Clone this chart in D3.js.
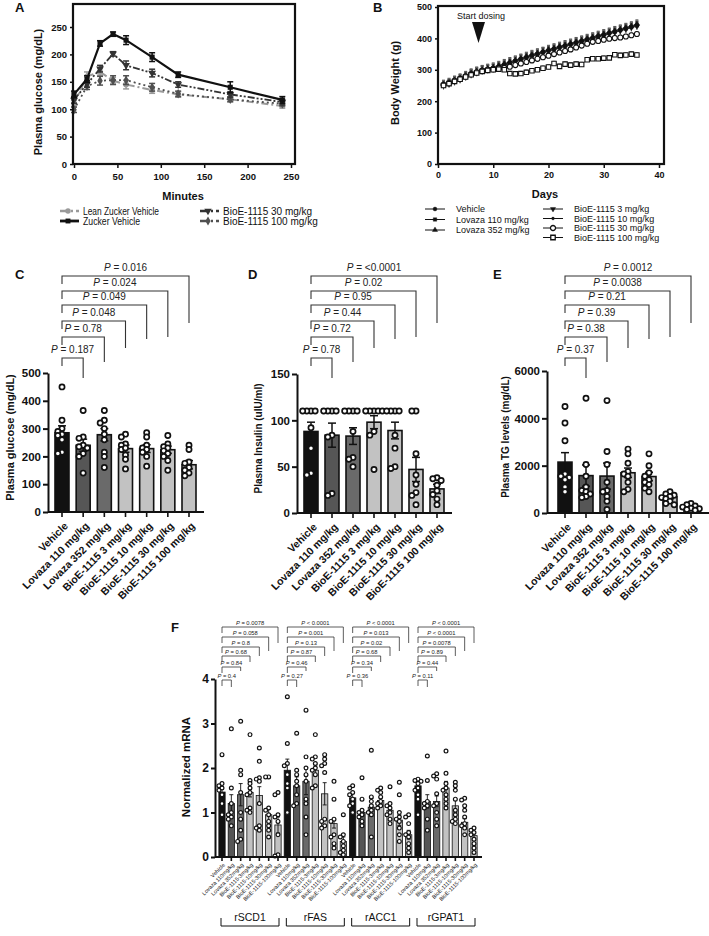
<!DOCTYPE html>
<html>
<head>
<meta charset="utf-8">
<script src="https://cdn.jsdelivr.net/npm/d3@7"></script>
<style>
  body { margin: 0; background: #fff; }
  svg text { font-family: "Liberation Sans", Arial, sans-serif; fill: #111; }
</style>
</head>
<body>
<svg id="fig" width="709" height="936"></svg>
<script>
// ---------------- data: panel A (OGTT) ----------------
var minutes = [0, 15, 30, 45, 60, 90, 120, 180, 240];
var leanZucker = [110, 160, 168, 152, 145, 135, 127, 118, 106];
var leanZuckerErr = [6, 8, 6, 6, 8, 6, 5, 5, 4];
var zuckerVehicle = [127, 155, 220, 237, 226, 195, 163, 140, 117];
var zuckerVehicleErr = [6, 6, 5, 4, 8, 8, 5, 10, 6];
var bioe30Ogtt = [117, 146, 174, 201, 180, 166, 145, 127, 113];
var bioe30OgttErr = [6, 6, 6, 4, 8, 7, 5, 5, 5];
var bioe100Ogtt = [99, 142, 152, 153, 153, 140, 128, 118, 110];
var bioe100OgttErr = [5, 6, 8, 8, 8, 7, 5, 4, 4];

// ---------------- data: panel B (body weight) ----------------
var days = [1, 2, 3, 4, 5, 6, 7, 8, 9, 10, 11, 12, 13, 14, 15, 16, 17, 18,
            19, 20, 21, 22, 23, 24, 25, 26, 27, 28, 29, 30, 31, 32, 33, 34, 35, 36];
var bwVehicle   = [252,258,266,272,280,288,294,300,303,306,312,318,324,330,336,341,347,352,358,363,368,373,378,383,388,393,398,403,408,413,418,423,428,433,438,443];
var bwLovaza110 = [250,256,263,270,278,286,293,298,302,305,310,316,322,328,334,339,345,350,356,361,366,371,376,381,386,391,396,401,406,411,416,421,426,431,436,441];
var bwLovaza352 = [254,260,267,274,282,290,296,301,305,309,314,320,326,331,337,343,349,354,359,365,370,375,380,385,390,395,400,405,410,415,420,425,430,435,440,446];
var bwBioe3     = [249,255,262,269,277,285,291,296,300,303,308,314,320,326,332,337,343,348,354,359,364,369,374,379,384,389,394,399,404,409,414,419,424,429,434,439];
var bwBioe10    = [251,257,265,271,279,287,293,299,302,305,309,315,321,327,333,338,344,349,355,360,365,370,375,380,385,390,395,400,405,410,415,420,425,430,435,440];
var bwBioe30    = [252,258,265,271,279,286,292,297,300,302,304,306,310,315,320,325,330,335,340,345,350,355,360,365,371,377,383,389,392,396,399,401,403,406,410,414];
var bwBioe100   = [250,256,263,270,277,284,290,295,298,300,302,300,288,287,288,292,297,300,305,309,320,311,318,315,318,317,332,335,335,337,338,348,346,347,350,347];
var bwErr = [13, 13, 13, 12, 12, 7, 7];

// ---------------- data: panels C, D, E ----------------
var treatments = ["Vehicle", "Lovaza 110 mg/kg", "Lovaza 352 mg/kg", "BioE-1115 3 mg/kg",
                  "BioE-1115 10 mg/kg", "BioE-1115 30 mg/kg", "BioE-1115 100 mg/kg"];

var glucoseMean = [285, 240, 278, 228, 228, 224, 170];
var glucoseErr  = [25, 22, 22, 13, 14, 13, 15];
var glucosePts  = [[450,330,300,290,280,275,260,215,210],
                   [365,270,265,240,235,230,210,200,140],
                   [365,330,320,300,280,260,215,200,160],
                   [280,270,245,240,225,230,205,190,155],
                   [285,270,240,230,225,215,200,165],
                   [275,245,235,230,220,210,200,185,150],
                   [240,225,180,175,160,150,140,130]];
var glucoseP = ["= 0.187", "= 0.78", "= 0.048", "= 0.049", "= 0.024", "= 0.016"];

var insulinMean = [88, 84, 83, 98, 89, 47, 26];
var insulinErr  = [10, 13, 9, 7, 9, 13, 5];
var insulinPts  = [[110,110,110,110,92,70,43,41],
                   [110,110,110,110,84,82,21,19],
                   [110,110,110,110,88,60,58,50],
                   [110,110,110,110,110,88,84,47],
                   [110,110,110,110,84,70,50,48],
                   [110,110,64,41,31,22,19,9],
                   [38,37,35,30,24,20,15,9]];
var insulinP = ["= 0.78", "= 0.72", "= 0.44", "= 0.95", "= 0.02", "= <0.0001"];

var tgMean = [2150, 1580, 1560, 1700, 1540, 680, 260];
var tgErr  = [400, 450, 550, 200, 180, 80, 50];
var tgPts  = [[4500,3800,3050,1650,1550,1500,1400,1100,900],
              [4850,2050,1550,1100,950,900,800,700,650],
              [4750,2600,2050,1300,950,900,700,500,150],
              [2700,2500,2100,1750,1650,1550,1300,1000,900],
              [2500,2000,1700,1550,1400,1300,1200,1050,900],
              [900,800,750,700,650,600,500,400,350],
              [400,350,300,250,200,180,150,120]];
var tgP = ["= 0.37", "= 0.38", "= 0.39", "= 0.21", "= 0.0038", "= 0.0012"];

// ---------------- data: panel F (hepatic mRNA) ----------------
var genes = ["rSCD1", "rFAS", "rACC1", "rGPAT1"];
var mrnaLabels = ["Vehicle", "Lovaza 110mg/kg", "Lovaza 352mg/kg", "BioE-1115-3mg/kg",
                  "BioE-1115-10mg/kg", "BioE-1115-30mg/kg", "BioE-1115-100mg/kg"];

var scd1Mean = [1.46, 1.2, 1.4, 1.45, 1.38, 0.95, 0.72];
var scd1Err  = [0.12, 0.2, 0.25, 0.1, 0.2, 0.15, 0.18];
var scd1Pts  = [[2.3,1.65,1.6,1.55,1.5,1.4,1.2,0.95],
                [2.88,1.55,1.2,1.0,0.95,0.9,0.85,0.7],
                [3.05,1.95,1.85,1.45,1.0,0.85,0.6,0.4,0.35],
                [2.75,1.72,1.65,1.55,1.45,1.4,1.1,1.05,1.0],
                [2.45,2.15,1.78,1.75,1.7,1.2,0.7,0.65,0.6],
                [1.8,1.8,1.1,1.05,0.95,0.8,0.7,0.6,0.45],
                [1.45,1.4,0.95,0.9,0.8,0.5,0.05,0.02]];
var scd1P = ["= 0.4", "= 0.84", "= 0.68", "= 0.8", "= 0.058", "= 0.0078"];

var fasMean = [1.95, 1.6, 1.7, 1.95, 1.42, 0.75, 0.35];
var fasErr  = [0.25, 0.2, 0.3, 0.12, 0.25, 0.1, 0.1];
var fasPts  = [[3.6,2.55,2.1,2.05,1.85,1.65,1.55,1.0],
               [2.78,1.95,1.85,1.7,1.6,1.4,1.2,1.15],
               [3.3,2.25,2.0,1.85,1.7,1.3,1.2,0.9,0.5],
               [2.75,2.25,2.2,2.1,2.0,1.95,1.85,1.6,1.55],
               [2.3,2.2,2.1,2.05,1.9,0.85,0.8,0.7,0.65],
               [1.7,1.3,0.85,0.8,0.5,0.45,0.3,0.2],
               [0.95,0.5,0.45,0.35,0.25,0.15,0.1,0.05]];
var fasP = ["= 0.27", "= 0.46", "= 0.87", "= 0.13", "= 0.001", "< 0.0001"];

var acc1Mean = [1.33, 1.0, 1.12, 1.27, 1.05, 0.83, 0.5];
var acc1Err  = [0.1, 0.07, 0.2, 0.07, 0.08, 0.12, 0.1];
var acc1Pts  = [[1.6,1.55,1.45,1.4,1.3,1.2,1.15,1.0],
                [1.78,1.3,1.05,1.0,0.95,0.9,0.8,0.7],
                [2.4,1.35,1.25,1.15,1.05,1.0,0.95,0.45],
                [1.55,1.5,1.45,1.35,1.25,1.2,1.15,1.1],
                [1.58,1.2,1.15,1.1,1.0,0.95,0.85,0.75],
                [1.68,1.4,1.0,0.9,0.85,0.8,0.65,0.5,0.35],
                [0.95,0.9,0.75,0.55,0.5,0.45,0.3,0.2,0.1]];
var acc1P = ["= 0.36", "= 0.34", "= 0.68", "= 0.02", "= 0.013", "< 0.0001"];

var gpat1Mean = [1.6, 1.25, 1.25, 1.55, 1.15, 0.78, 0.48];
var gpat1Err  = [0.1, 0.15, 0.12, 0.15, 0.15, 0.08, 0.06];
var gpat1Pts  = [[1.75,1.72,1.7,1.65,1.55,1.5,1.4,1.3,0.95],
                 [2.27,1.72,1.25,1.2,1.15,1.1,0.85,0.6],
                 [1.87,1.82,1.75,1.42,1.2,1.15,1.0,0.85,0.7],
                 [2.38,1.88,1.65,1.55,1.5,1.4,1.3,1.2,1.1],
                 [1.68,1.6,1.5,1.3,1.05,0.95,0.85,0.8,0.75],
                 [1.32,1.28,1.15,1.05,0.9,0.75,0.7,0.65,0.5],
                 [0.65,0.6,0.55,0.5,0.4,0.3,0.2,0.1]];
var gpat1P = ["= 0.11", "= 0.44", "= 0.89", "= 0.0078", "< 0.0001", "< 0.0001"];

// ---------------- drawing ----------------
var svg = d3.select("#fig");
svg.append("rect").attr("width", 709).attr("height", 936).attr("fill", "#fff");

var barColors = ["#111", "#565656", "#6a6a6a", "#c2c2c2", "#c2c2c2", "#c2c2c2", "#c2c2c2"];
var plain = function(d) { return String(d); };

function letter(t, x, y) {
  svg.append("text").attr("x", x).attr("y", y).attr("font-size", 13)
    .attr("font-weight", "bold").text(t);
}

function styleAxis(g, fs, sw) {
  g.attr("font-family", "Liberation Sans, Arial, sans-serif").attr("font-size", fs);
  g.selectAll("path.domain").attr("stroke", "#111").attr("stroke-width", sw);
  g.selectAll(".tick line").attr("stroke", "#111").attr("stroke-width", sw);
  g.selectAll(".tick text").attr("font-weight", "bold").attr("fill", "#111");
}

function yLabel(t, x, y, fs) {
  svg.append("text").attr("transform", "translate(" + x + "," + y + ") rotate(-90)")
    .attr("text-anchor", "middle").attr("font-size", fs).attr("font-weight", "bold").text(t);
}

function pText(g, x, y, rel, fs) {
  var t = g.append("text").attr("x", x).attr("y", y).attr("text-anchor", "middle")
    .attr("font-size", fs).style("fill", "#222");
  t.append("tspan").attr("font-style", "italic").text("P");
  t.append("tspan").text(" " + rel);
}

// simple beeswarm: keep circles from piling on each other
function swarm(vals, y, cx, r) {
  var placed = [], out = [];
  var order = vals.map(function(v, i) { return i; })
    .sort(function(a, b) { return vals[b] - vals[a]; });
  order.forEach(function(i) {
    var py = y(vals[i]);
    for (var k = 0; k < 14; k++) {
      var off = (k === 0 ? 0 : (k % 2 ? -1 : 1) * Math.ceil(k / 2)) * r * 1.6;
      var px = cx + off;
      var ok = placed.every(function(p) { return Math.hypot(p[0] - px, p[1] - py) >= r * 1.55; });
      if (ok) { out[i] = [px, py]; placed.push(out[i]); break; }
    }
    if (!out[i]) { out[i] = [cx, py]; placed.push(out[i]); }
  });
  return out;
}

function errBar(g, x, y0, y1, cap, color, sw) {
  g.append("line").attr("x1", x).attr("x2", x).attr("y1", y0).attr("y2", y1)
    .attr("stroke", color).attr("stroke-width", sw);
  g.append("line").attr("x1", x - cap).attr("x2", x + cap).attr("y1", y1).attr("y2", y1)
    .attr("stroke", color).attr("stroke-width", sw);
  g.append("line").attr("x1", x - cap).attr("x2", x + cap).attr("y1", y0).attr("y2", y0)
    .attr("stroke", color).attr("stroke-width", sw);
}

/* ======== Panel A ======== */
letter("A", 15, 12);
var xA = d3.scaleLinear().domain([0, 250]).range([74, 291]);
var yA = d3.scaleLinear().domain([0, 250]).range([164, 27]);
var gA = svg.append("g");

var seriesA = [
  { name: "Lean Zucker Vehicle", v: leanZucker, e: leanZuckerErr, c: "#9a9a9a", w: 2, dash: "7,3,2,3", sym: d3.symbolCircle, rot: 0, squeeze: 76 },
  { name: "BioE-1115 100 mg/kg", v: bioe100Ogtt, e: bioe100OgttErr, c: "#505050", w: 1.8, dash: "2,3", sym: d3.symbolDiamond, rot: 0 },
  { name: "BioE-1115 30 mg/kg", v: bioe30Ogtt, e: bioe30OgttErr, c: "#333", w: 1.8, dash: "7,2,2,2,2,2", sym: d3.symbolTriangle, rot: 180 },
  { name: "Zucker Vehicle", v: zuckerVehicle, e: zuckerVehicleErr, c: "#111", w: 2.2, dash: null, sym: d3.symbolSquare, rot: 0, squeeze: 57 }
];

seriesA.forEach(function(s) {
  var line = d3.line().x(function(d, i) { return xA(minutes[i]); }).y(function(d) { return yA(d); });
  gA.append("path").datum(s.v).attr("d", line).attr("fill", "none")
    .attr("stroke", s.c).attr("stroke-width", s.w).attr("stroke-dasharray", s.dash);
  s.v.forEach(function(d, i) {
    errBar(gA, xA(minutes[i]), yA(d - s.e[i]), yA(d + s.e[i]), 3, s.c, 1.5);
    gA.append("path").attr("d", d3.symbol().type(s.sym).size(26)())
      .attr("transform", "translate(" + xA(minutes[i]) + "," + yA(d) + ") rotate(" + s.rot + ")")
      .attr("fill", s.c);
  });
});

gA.append("rect").attr("x", 73).attr("y", 4).attr("width", 222).attr("height", 160)
  .attr("fill", "none").attr("stroke", "#111").attr("stroke-width", 2.2);
var axA = gA.append("g").attr("transform", "translate(0,164)")
  .call(d3.axisBottom(xA).tickValues([0, 50, 100, 150, 200, 250]).tickFormat(plain).tickSize(4).tickPadding(5));
axA.select(".domain").remove();
styleAxis(axA, 9.5, 1.5);
var ayA = gA.append("g").attr("transform", "translate(73,0)")
  .call(d3.axisLeft(yA).tickValues([0, 50, 100, 150, 200, 250]).tickFormat(plain).tickSize(3).tickPadding(3));
ayA.select(".domain").remove();
styleAxis(ayA, 9.5, 1.5);
svg.append("text").attr("x", 183).attr("y", 200).attr("text-anchor", "middle")
  .attr("font-size", 11).attr("font-weight", "bold").text("Minutes");
yLabel("Plasma glucose (mg/dL)", 42, 92, 11);

// legend A
var legA = [
  { s: seriesA[0], x: 60, y: 211 },
  { s: seriesA[3], x: 60, y: 221 },
  { s: seriesA[2], x: 200, y: 211 },
  { s: seriesA[1], x: 200, y: 221 }
];
legA.forEach(function(l) {
  gA.append("line").attr("x1", l.x).attr("x2", l.x + 19).attr("y1", l.y).attr("y2", l.y)
    .attr("stroke", l.s.c).attr("stroke-width", l.s.w + 0.6).attr("stroke-dasharray", l.s.dash ? "8,3,2,3" : null);
  gA.append("path").attr("d", d3.symbol().type(l.s.sym).size(24)())
    .attr("transform", "translate(" + (l.x + 8) + "," + l.y + ") rotate(" + l.s.rot + ")").attr("fill", l.s.c);
  var t = gA.append("text").attr("x", l.x + 23).attr("y", l.y + 3.5).attr("font-size", 10).text(l.s.name);
  if (l.s.squeeze) t.attr("textLength", l.s.squeeze).attr("lengthAdjust", "spacingAndGlyphs");
});

/* ======== Panel B ======== */
letter("B", 373, 12);
var xB = d3.scaleLinear().domain([0, 40]).range([438, 659]);
var yB = d3.scaleLinear().domain([0, 500]).range([164, 7]);
var gB = svg.append("g");

var seriesB = [
  { name: "Vehicle", v: bwVehicle, sym: d3.symbolCircle, rot: 0, size: 12, open: false },
  { name: "Lovaza 110 mg/kg", v: bwLovaza110, sym: d3.symbolSquare, rot: 0, size: 12, open: false },
  { name: "Lovaza 352 mg/kg", v: bwLovaza352, sym: d3.symbolTriangle, rot: 0, size: 12, open: false },
  { name: "BioE-1115 3 mg/kg", v: bwBioe3, sym: d3.symbolTriangle, rot: 180, size: 12, open: false },
  { name: "BioE-1115 10 mg/kg", v: bwBioe10, sym: d3.symbolCircle, rot: 0, size: 6, open: false },
  { name: "BioE-1115 30 mg/kg", v: bwBioe30, sym: d3.symbolCircle, rot: 0, size: 20, open: true },
  { name: "BioE-1115 100 mg/kg", v: bwBioe100, sym: d3.symbolSquare, rot: 0, size: 20, open: true }
];

seriesB.forEach(function(s, k) {
  s.v.forEach(function(d, i) {
    var x = xB(days[i]);
    gB.append("line").attr("x1", x).attr("x2", x).attr("y1", yB(d - bwErr[k])).attr("y2", yB(d + bwErr[k]))
      .attr("stroke", "#8a8a8a").attr("stroke-width", 1);
    gB.append("line").attr("x1", x - 1.5).attr("x2", x + 1.5).attr("y1", yB(d + bwErr[k])).attr("y2", yB(d + bwErr[k]))
      .attr("stroke", "#555").attr("stroke-width", 1);
  });
});
seriesB.forEach(function(s) {
  var line = d3.line().x(function(d, i) { return xB(days[i]); }).y(function(d) { return yB(d); });
  gB.append("path").datum(s.v).attr("d", line).attr("fill", "none").attr("stroke", "#222").attr("stroke-width", 0.7);
  s.v.forEach(function(d, i) {
    gB.append("path").attr("d", d3.symbol().type(s.sym).size(s.size)())
      .attr("transform", "translate(" + xB(days[i]) + "," + yB(d) + ") rotate(" + s.rot + ")")
      .attr("fill", s.open ? "#fff" : "#111").attr("stroke", "#111").attr("stroke-width", s.open ? 1.1 : 0.4);
  });
});

gB.append("rect").attr("x", 438).attr("y", 6).attr("width", 226).attr("height", 158)
  .attr("fill", "none").attr("stroke", "#111").attr("stroke-width", 2.2);
var axB = gB.append("g").attr("transform", "translate(0,164)")
  .call(d3.axisBottom(xB).tickValues([0, 10, 20, 30, 40]).tickFormat(plain).tickSize(4).tickPadding(4));
axB.select(".domain").remove();
styleAxis(axB, 9, 1.5);
var ayB = gB.append("g").attr("transform", "translate(438,0)")
  .call(d3.axisLeft(yB).tickValues([0, 100, 200, 300, 400, 500]).tickFormat(plain).tickSize(3).tickPadding(3));
ayB.select(".domain").remove();
styleAxis(ayB, 9, 1.5);
svg.append("text").attr("x", 545).attr("y", 198).attr("text-anchor", "middle")
  .attr("font-size", 11).attr("font-weight", "bold").text("Days");
yLabel("Body Weight (g)", 399, 83, 11);

// start dosing arrow
gB.append("text").attr("x", 457).attr("y", 19).attr("font-size", 9).text("Start dosing");
gB.append("path").attr("d", "M472,22 L485,22 L478.5,43 Z").attr("fill", "#111");

// legend B
var legB = [
  { s: seriesB[0], x: 425, y: 209 }, { s: seriesB[1], x: 425, y: 219.5 }, { s: seriesB[2], x: 425, y: 230 },
  { s: seriesB[3], x: 543, y: 209 }, { s: seriesB[4], x: 543, y: 218.5 }, { s: seriesB[5], x: 543, y: 228 },
  { s: seriesB[6], x: 543, y: 237.5 }
];
legB.forEach(function(l) {
  gB.append("line").attr("x1", l.x).attr("x2", l.x + 20).attr("y1", l.y).attr("y2", l.y)
    .attr("stroke", "#111").attr("stroke-width", 1);
  gB.append("path").attr("d", d3.symbol().type(l.s.sym).size(l.s.size)())
    .attr("transform", "translate(" + (l.x + 10) + "," + l.y + ") rotate(" + l.s.rot + ")")
    .attr("fill", l.s.open ? "#fff" : "#111").attr("stroke", "#111").attr("stroke-width", l.s.open ? 1.3 : 0.4);
  gB.append("text").attr("x", l.x + 31).attr("y", l.y + 3.2).attr("font-size", 9).text(l.s.name);
});

/* ======== bar panels ======== */
function barPanel(o) {
  var g = svg.append("g");
  var idx = o.means.map(function(d, i) { return i; });
  var x = d3.scalePoint().domain(idx).range(o.xr);
  var y = d3.scaleLinear().domain(o.yd).range(o.yr);

  g.selectAll("rect.bar").data(o.means).enter().append("rect").attr("class", "bar")
    .attr("x", function(d, i) { return x(i) - o.bw / 2; }).attr("width", o.bw)
    .attr("y", function(d) { return y(d); })
    .attr("height", function(d) { return y(0) - y(d); })
    .attr("fill", function(d, i) { return o.colors[i % o.colors.length]; })
    .attr("stroke", "#111").attr("stroke-width", o.sw);

  o.means.forEach(function(d, i) {
    errBar(g, x(i), y(Math.max(0, d - o.errs[i])), y(d + o.errs[i]), o.cap, "#111", o.esw);
  });

  o.pts.forEach(function(vals, i) {
    swarm(vals, y, x(i), o.r).forEach(function(p) {
      g.append("circle").attr("cx", p[0]).attr("cy", p[1]).attr("r", o.r)
        .attr("fill", "#fff").attr("stroke", "#111").attr("stroke-width", o.psw);
    });
  });

  var ay = g.append("g").attr("transform", "translate(" + o.axisX + ",0)")
    .call(d3.axisLeft(y).tickValues(o.ticks).tickFormat(plain).tickSize(o.tick).tickSizeOuter(0).tickPadding(2));
  styleAxis(ay, o.tfs, o.asw);

  g.append("line").attr("x1", o.axisX).attr("x2", o.xEnd).attr("y1", y(0)).attr("y2", y(0))
    .attr("stroke", "#111").attr("stroke-width", o.asw);
  idx.forEach(function(i) {
    g.append("line").attr("x1", x(i)).attr("x2", x(i)).attr("y1", y(0)).attr("y2", y(0) + o.tick)
      .attr("stroke", "#111").attr("stroke-width", o.asw * 0.8);
    g.append("text")
      .attr("transform", "translate(" + (x(i) + o.lab[0]) + "," + (y(0) + o.lab[1]) + ") rotate(-45)")
      .attr("text-anchor", "end").attr("dy", "0.35em").attr("font-size", o.xfs)
      .attr("font-weight", o.xbold ? "bold" : null).style("fill", "#111")
      .text(o.labels[i % o.labels.length]);
  });
  return { g: g, x: x, y: y };
}

function brackets(g, x0, xs, levels, bottoms, leftLen, rels, fs, tOff) {
  xs.forEach(function(xi, k) {
    g.append("path")
      .attr("d", "M" + x0 + "," + (levels[k] + leftLen) + "V" + levels[k] + "H" + xi + "V" + bottoms[k])
      .attr("fill", "none").attr("stroke", "#333").attr("stroke-width", fs > 8 ? 1.1 : 0.8);
    pText(g, (x0 + xi) / 2, levels[k] - tOff, rels[k], fs);
  });
}

var cdeLevels = [358, 337, 321, 305, 291, 276];
var cdeBottoms = [378, 362, 348, 339, 337, 323];

function cdePanel(L, lx, means, errs, pts, ps, xr, axisX, xEnd, yd, yr, ticks, lab, labX, labFs) {
  letter(L, lx, 279);
  var p = barPanel({
    means: means, errs: errs, pts: pts, labels: treatments, colors: barColors,
    xr: xr, yd: yd, yr: yr, ticks: ticks, axisX: axisX, xEnd: xEnd,
    bw: 14, sw: 1.6, cap: 4, esw: 1.5, r: 2.6, psw: 1.7, tick: 5, tfs: 11.5, asw: 2,
    lab: [4, 12], xfs: 10.5, xbold: true
  });
  brackets(p.g, p.x(0), [1, 2, 3, 4, 5, 6].map(p.x), cdeLevels, cdeBottoms, 8, ps, 10, 5);
  yLabel(lab, labX, (yr[0] + yr[1]) / 2 - 5, labFs);
}

cdePanel("C", 15, glucoseMean, glucoseErr, glucosePts, glucoseP, [62, 189], 48, 204,
  [0, 500], [512, 373], [0, 100, 200, 300, 400, 500], "Plasma glucose (mg/dL)", 14, 11);
cdePanel("D", 248, insulinMean, insulinErr, insulinPts, insulinP, [311, 437], 297, 452,
  [0, 150], [513, 374], [0, 50, 100, 150], "Plasma Insulin (uIU/ml)", 262, 10);
cdePanel("E", 493, tgMean, tgErr, tgPts, tgP, [565, 691], 547, 709,
  [0, 6000], [513, 371], [0, 2000, 4000, 6000], "Plasma TG levels (mg/dL)", 509, 10);

/* ======== Panel F ======== */
letter("F", 171, 632);
var fMeans = scd1Mean.concat(fasMean, acc1Mean, gpat1Mean);
var fErrs = scd1Err.concat(fasErr, acc1Err, gpat1Err);
var fPts = scd1Pts.concat(fasPts, acc1Pts, gpat1Pts);
var fP = [scd1P, fasP, acc1P, gpat1P];

var pF = barPanel({
  means: fMeans, errs: fErrs, pts: fPts, labels: mrnaLabels, colors: barColors,
  xr: [222, 474], yd: [0, 4], yr: [857, 679], ticks: [0, 1, 2, 3, 4], axisX: 215, xEnd: 482,
  bw: 6.3, sw: 0.8, cap: 2, esw: 0.9, r: 1.9, psw: 1.2, tick: 4, tfs: 12, asw: 2,
  lab: [2, 7], xfs: 5.5, xbold: false
});
yLabel("Normalized mRNA", 190, 767, 11.5);

var fLevels = [680, 667, 656, 647, 637, 627];
var fBottoms = [687, 671, 662, 656, 651, 643];
genes.forEach(function(gname, gi) {
  var base = gi * 7;
  var xs = [1, 2, 3, 4, 5, 6].map(function(k) { return pF.x(base + k); });
  brackets(pF.g, pF.x(base), xs, fLevels, fBottoms, 6, fP[gi], 5.8, 2.5);
  var x1 = pF.x(base) - 1, x2 = pF.x(base + 6) + 1;
  pF.g.append("path").attr("d", "M" + x1 + ",918V926H" + x2 + "V918")
    .attr("fill", "none").attr("stroke", "#111").attr("stroke-width", 1);
  pF.g.append("text").attr("x", (x1 + x2) / 2).attr("y", 921).attr("text-anchor", "middle")
    .attr("font-size", 10.5).text(gname);
});
</script>
</body>
</html>
